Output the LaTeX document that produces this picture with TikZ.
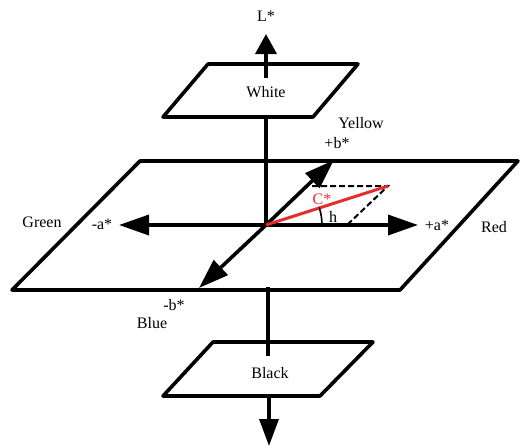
\documentclass[tikz,border=0pt]{standalone}
\usepackage{fontspec}
\setmainfont{Liberation Serif}
\usetikzlibrary{arrows.meta}
\definecolor{cred}{RGB}{230,45,45}
\begin{document}
\begin{tikzpicture}[x=1pt,y=-1pt,
  edge/.style={line width=3.6pt, line join=round},
  axis/.style={line width=3.6pt, -{Triangle[length=30pt,width=20pt]}},
  upaxis/.style={line width=3.6pt, -{Triangle[length=20pt,width=21pt]}},
  lbl/.style={font=\fontsize{16}{16}\selectfont, inner sep=0pt}]
\useasboundingbox (0,0) rectangle (520,447);
% planes
\draw[edge] (163,117) -- (313,117) -- (358,64) -- (208,64) -- cycle;
\draw[edge] (12,290) -- (400,290) -- (518,161) -- (140,161) -- cycle;
\draw[edge] (163,396) -- (320,396) -- (373,342) -- (213,342) -- cycle;
% coordinates
\coordinate (O) at (266,225);
\coordinate (Lbase) at (266,78);
\coordinate (Ltip) at (266,34);
\coordinate (Wbot) at (266,117);
\coordinate (Apos) at (418,225);
\coordinate (Aneg) at (119,225);
\coordinate (Bpos) at (334,160);
\coordinate (Bneg) at (199,288);
\coordinate (Dtop) at (268,287);
\coordinate (Dbot) at (268,356);
\coordinate (Kbot) at (269,396);
\coordinate (Ktip) at (269,446);
\coordinate (C) at (388,186);
\coordinate (Cx) at (312,186);
\coordinate (Cy) at (347,225);
% axes
\draw[upaxis] (Lbase) -- (Ltip);
\draw[edge] (Wbot) -- (O);
\draw[axis] (O) -- (Apos);
\draw[axis] (O) -- (Aneg);
\draw[axis] (O) -- (Bpos);
\draw[axis] (O) -- (Bneg);
\draw[edge] (Dtop) -- (Dbot);
\draw[line width=3.6pt, -{Triangle[length=27pt,width=19pt]}] (Kbot) -- (Ktip);
% chroma
\draw[dashed, line width=2pt, dash pattern=on 6pt off 3pt] (Cx) -- (C) -- (Cy);
\draw[cred, line width=3pt] (O) -- (C);
\draw[line width=1.6pt] (322,225) arc[start angle=0, end angle=-18.2, radius=56];
% labels
\node[lbl] (lL) at (266,16) {L*};
\node[lbl] (lWhite) at (266,92) {White};
\node[lbl] (lYellow) at (361,123) {Yellow};
\node[lbl] (lbp) at (337,143) {+b*};
\node[lbl, text=cred] (lC) at (322,199) {C*};
\node[lbl] (lh) at (333,217) {h};
\node[lbl] (lap) at (437,225) {+a*};
\node[lbl] (lRed) at (494,227) {Red};
\node[lbl] (lGreen) at (42,222) {Green};
\node[lbl] (lan) at (102,224) {-a*};
\node[lbl] (lbn) at (174,305) {-b*};
\node[lbl] (lBlue) at (152,323) {Blue};
\node[lbl] (lBlack) at (270,373) {Black};
\end{tikzpicture}
\end{document}
